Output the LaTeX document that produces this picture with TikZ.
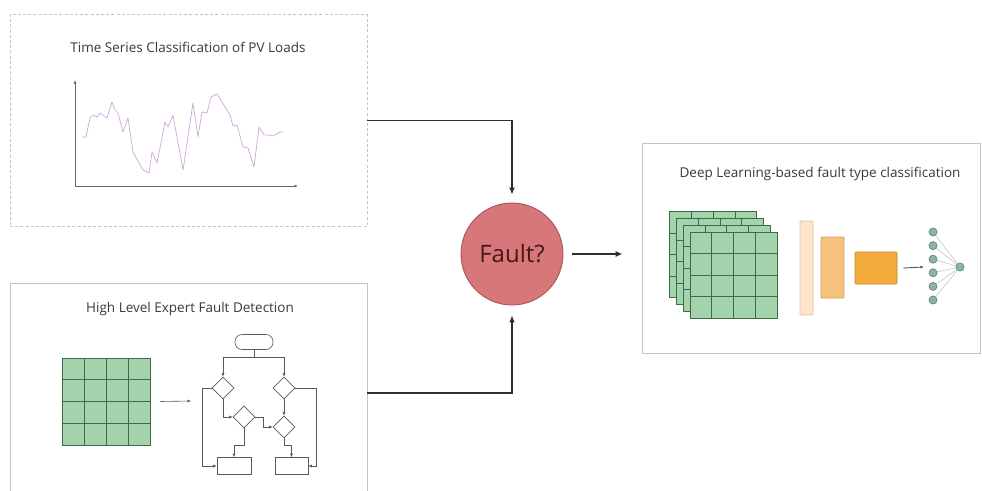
\documentclass[tikz,border=0pt]{standalone}
\usepackage{fontspec}
\setmainfont{Open Sans}
\usetikzlibrary{arrows.meta,calc,shapes.geometric}

\definecolor{panelgray}{HTML}{C4C4C4}
\definecolor{titlegray}{HTML}{3A3A3A}
\definecolor{linkgray}{HTML}{2E2E2E}
\definecolor{gridfill}{HTML}{A3D3AD}
\definecolor{gridline}{HTML}{3D6A47}
\definecolor{tsviolet}{HTML}{CFA6DC}
\definecolor{axisgray}{HTML}{666666}
\definecolor{faultfill}{HTML}{D8777A}
\definecolor{faultdraw}{HTML}{A95457}
\definecolor{faulttext}{HTML}{4A1518}
\definecolor{barA}{HTML}{FCE5CB}
\definecolor{barAd}{HTML}{E6C59C}
\definecolor{barB}{HTML}{F6C17E}
\definecolor{barBd}{HTML}{D59E5A}
\definecolor{barC}{HTML}{F2AD3E}
\definecolor{barCd}{HTML}{C48727}
\definecolor{netfill}{HTML}{8DB3A6}
\definecolor{netdraw}{HTML}{5C877A}
\definecolor{flowgray}{HTML}{5A5A5A}

\tikzset{
  panel/.style={draw=panelgray, line width=0.8pt, inner sep=0pt},
  paneltitle/.style={text=titlegray, font=\fontsize{13.5}{15}\selectfont, inner sep=0pt},
  link/.style={draw=linkgray, line width=1.3pt, -{Latex[length=7pt,width=6pt]}},
  flow/.style={draw=flowgray, line width=0.6pt, -{Latex[length=3.5pt,width=3pt]}},
  axisline/.style={draw=axisgray, line width=0.9pt, -{Latex[length=3.5pt,width=3pt]}},
  matgrid/.style={fill=gridfill, draw=gridline, line width=0.9pt, inner sep=0pt,
    minimum width=88pt, minimum height=87pt,
    path picture={
      \foreach \f in {0.25,0.5,0.75}{
        \draw[gridline, line width=0.9pt]
          ($(path picture bounding box.south west)!\f!(path picture bounding box.south east)$) --
          ($(path picture bounding box.north west)!\f!(path picture bounding box.north east)$);
        \draw[gridline, line width=0.9pt]
          ($(path picture bounding box.south west)!\f!(path picture bounding box.north west)$) --
          ($(path picture bounding box.south east)!\f!(path picture bounding box.north east)$);
      }
    }},
  decision/.style={diamond, draw=flowgray, line width=0.6pt, fill=white, inner sep=0pt,
    minimum width=22pt, minimum height=22pt},
  terminal/.style={draw=flowgray, line width=0.6pt, rounded corners=7pt, inner sep=0pt,
    minimum width=38pt, minimum height=15pt},
  process/.style={draw=flowgray, line width=0.6pt, inner sep=0pt,
    minimum width=34pt, minimum height=17pt},
  layerbar/.style={line width=0.8pt, inner sep=0pt, rounded corners=1pt},
  neuron/.style={circle, fill=netfill, draw=netdraw, line width=0.7pt, inner sep=0pt,
    minimum size=8pt},
  synapse/.style={draw=gray!60, line width=0.4pt},
}

\begin{document}
\begin{tikzpicture}[x=1pt,y=-1pt]
\useasboundingbox (0,0) rectangle (982,490);
\fill[white] (0,0) rectangle (982,490);

% ---------- time series panel ----------
\node[panel, dashed, dash pattern=on 3pt off 2.2pt, minimum width=357pt, minimum height=212pt]
  (tspanel) at (188.5,120.5) {};
\node[paneltitle] (tstitle) at (188,47) {Time Series Classification of PV Loads};
\coordinate (origin) at (75,186);
\coordinate (ytop) at (75,80);
\coordinate (xend) at (298,186);
\draw[axisline] (origin) -- (ytop);
\draw[axisline] (origin) -- (xend);
\draw[tsviolet, line width=0.7pt, line join=round] plot coordinates {
  (82,137) (86,137) (90,118) (93,115) (97,117) (100,113) (107,118) (112,102)
  (115,110) (118,113) (123,132) (128,118) (133,152) (143,170) (149,173)
  (152,152) (157,163) (165,122) (168,127) (173,115) (183,170) (193,103)
  (198,137) (202,112) (207,113) (211,97) (217,94) (222,102) (230,115)
  (233,126) (237,125) (243,147) (248,148) (254,167) (259,127) (264,135)
  (270,135) (273,136) (280,132) (283,132)};

% ---------- expert fault detection panel ----------
\node[panel, minimum width=357pt, minimum height=220pt] (expanel) at (188.5,393) {};
\node[paneltitle] (extitle) at (190,309) {High Level Expert Fault Detection};
\node[matgrid] (hgrid) at (106,401.5) {};
\coordinate (flowin) at (191,401);
\draw[flow] (hgrid.east) ++(10,0) coordinate (gridout) -- (flowin);

% flowchart
\node[terminal] (f0) at (254,342) {};
\node[decision] (d1) at (223,388) {};
\node[decision] (d2) at (284,388) {};
\node[decision] (d3) at (244,417) {};
\node[decision] (d4) at (284,427) {};
\node[process] (b1) at (234,466) {};
\node[process, minimum width=33pt] (b2) at (291.5,466) {};
\draw[flow] (f0.south) -- ++(0,7) -| (d1.north);
\draw[flow] (f0.south) -- ++(0,7) -| (d2.north);
\draw[flow] (d1.west) -- ++(-9,0) |- (b1.west);
\draw[flow] (d1.south) |- (d3.west);
\draw[flow] (d3.east) -- ++(8,0) |- (d4.west);
\draw[flow] (d3.south) -- ++(0,17) -| (b1.north);
\draw[flow] (d2.east) -- ++(21,0) |- (b2.east);
\draw[flow] (d2.south) -- (d4.north);
\draw[flow] (d4.south) -- ++(0,7) -| (b2.north);

% ---------- decision node ----------
\node[circle, fill=faultfill, draw=faultdraw, line width=0.9pt, minimum size=102pt,
  inner sep=0pt, text=faulttext, font=\fontsize{24}{28}\selectfont] (fault) at (512,254) {Fault?};

% ---------- deep learning panel ----------
\node[panel, minimum width=338pt, minimum height=210pt] (dlpanel) at (811,248) {};
\node[paneltitle] (dltitle) at (820,174) {Deep Learning-based fault type classification};

\foreach \k in {3,2,1,0}{
  \node[matgrid, minimum width=87pt, minimum height=86pt] (layer\k)
    at ({733.5-6.7*\k},{275-6.7*\k}) {};
}
\node[layerbar, fill=barA, draw=barAd, minimum width=13pt, minimum height=94pt] (bar1) at (806.5,268) {};
\node[layerbar, fill=barB, draw=barBd, minimum width=23pt, minimum height=61pt] (bar2) at (832.5,267.5) {};
\node[layerbar, fill=barC, draw=barCd, minimum width=42pt, minimum height=32pt] (bar3) at (876,268) {};
\coordinate (netin) at (924,267);
\draw[flow, line width=0.9pt] (bar3.east) ++(6,0) coordinate (barout) -- (netin);

% small network: synapses first, neurons on top
\coordinate (outpos) at (960,267);
\foreach \i in {1,...,6}{
  \coordinate (npos\i) at (933,{232+13.6*(\i-1)});
  \draw[synapse] (npos\i) -- (outpos);
}
\foreach \i in {1,...,6}{
  \node[neuron] (n\i) at (npos\i) {};
}
\node[neuron] (out) at (outpos) {};

% ---------- connectors ----------
\draw[link, shorten >=8pt] (tspanel.east) -| (fault.north);
\draw[link, shorten >=10pt] (expanel.east) -| (fault.south);
\draw[link, shorten <=9pt, shorten >=19pt] (fault.east) -- (dlpanel.west |- fault.east);
\end{tikzpicture}
\end{document}
